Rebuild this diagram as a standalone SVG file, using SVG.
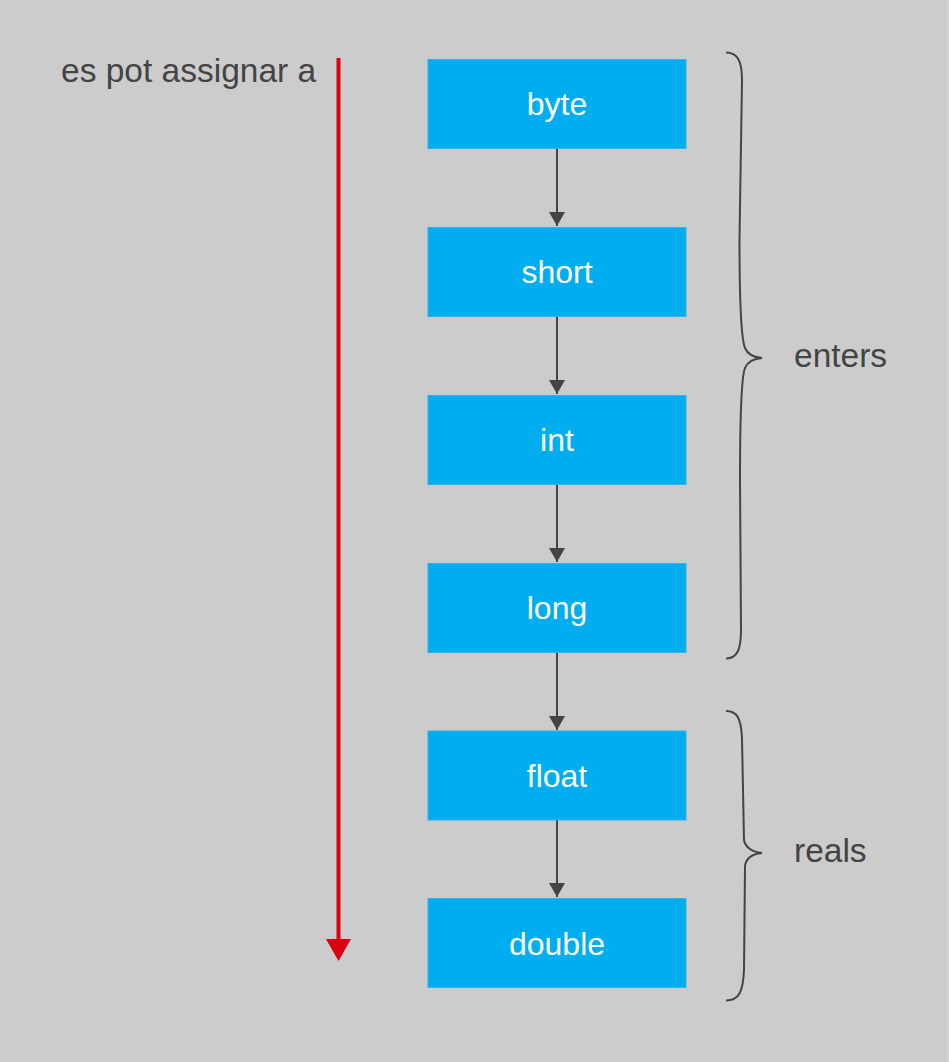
<svg xmlns="http://www.w3.org/2000/svg" width="949" height="1062" viewBox="0 0 949 1062">
<defs>
<style>
.box{fill:#00aeef;stroke:#2db4ea;stroke-width:1}
.lbl{font-family:"Liberation Sans",Arial,sans-serif;font-size:32px;fill:#ffffff;text-anchor:middle}
.note{font-family:"Liberation Sans",Arial,sans-serif;font-size:33.5px;fill:#444444}
.conn{stroke:#444444;stroke-width:2;fill:none}
.brace{stroke:#444444;stroke-width:2;fill:none}
</style>
<marker id="ah" markerUnits="userSpaceOnUse" markerWidth="14" markerHeight="16" refX="14" refY="8" orient="auto" viewBox="0 0 14 16">
<path d="M0,0 L14,8 L0,16 Z" fill="#444444"/>
</marker>
</defs>
<rect x="0" y="0" width="949" height="1062" fill="#cccccc"/>
<line x1="948" y1="0" x2="948" y2="1062" stroke="#d6d6d6" stroke-width="1"/>

<g id="assign-label">
<text class="note" x="61" y="82">es pot assignar a</text>
</g>
<g id="red-arrow">
<line x1="338.5" y1="58" x2="338.5" y2="942" stroke="#db0010" stroke-width="4"/>
<path d="M326,939 L351,939 L338.5,961 Z" fill="#db0010"/>
</g>

<g id="connectors">
<line class="conn" x1="557" y1="148" x2="557" y2="226" marker-end="url(#ah)"/>
<line class="conn" x1="557" y1="316" x2="557" y2="394" marker-end="url(#ah)"/>
<line class="conn" x1="557" y1="484" x2="557" y2="562" marker-end="url(#ah)"/>
<line class="conn" x1="557" y1="652" x2="557" y2="730" marker-end="url(#ah)"/>
<line class="conn" x1="557" y1="820" x2="557" y2="897" marker-end="url(#ah)"/>
</g>

<g id="byte"><rect class="box" x="428" y="59.5" width="258" height="89"/><text class="lbl" x="557" y="115">byte</text></g>
<g id="short"><rect class="box" x="428" y="227.5" width="258" height="89"/><text class="lbl" x="557" y="283">short</text></g>
<g id="int"><rect class="box" x="428" y="395.5" width="258" height="89"/><text class="lbl" x="557" y="451">int</text></g>
<g id="long"><rect class="box" x="428" y="563.5" width="258" height="89"/><text class="lbl" x="557" y="619">long</text></g>
<g id="float"><rect class="box" x="428" y="731" width="258" height="89"/><text class="lbl" x="557" y="787">float</text></g>
<g id="double"><rect class="box" x="428" y="898.5" width="258" height="89"/><text class="lbl" x="557" y="955">double</text></g>

<g id="enters">
<path class="brace" d="M726,52.5 C737,52.5 742,60 742,80 L739.5,240 C739.5,300 741,338 745,348 C748,355 754,357.5 762,358 C754,358.5 748,361 745,368 C741,378 740,420 740,480 L741,630 C741,650 737,658.5 726,658.5"/>
<text class="note" x="794" y="367">enters</text>
</g>
<g id="reals">
<path class="brace" d="M726,711 C737,711 741,718 742,738 L744,840 C745,847 752,852 762,853 C752,854 746,858 745,866 L744,970 C743,992 739,1000.5 726,1000.5"/>
<text class="note" x="794" y="862">reals</text>
</g>
</svg>
